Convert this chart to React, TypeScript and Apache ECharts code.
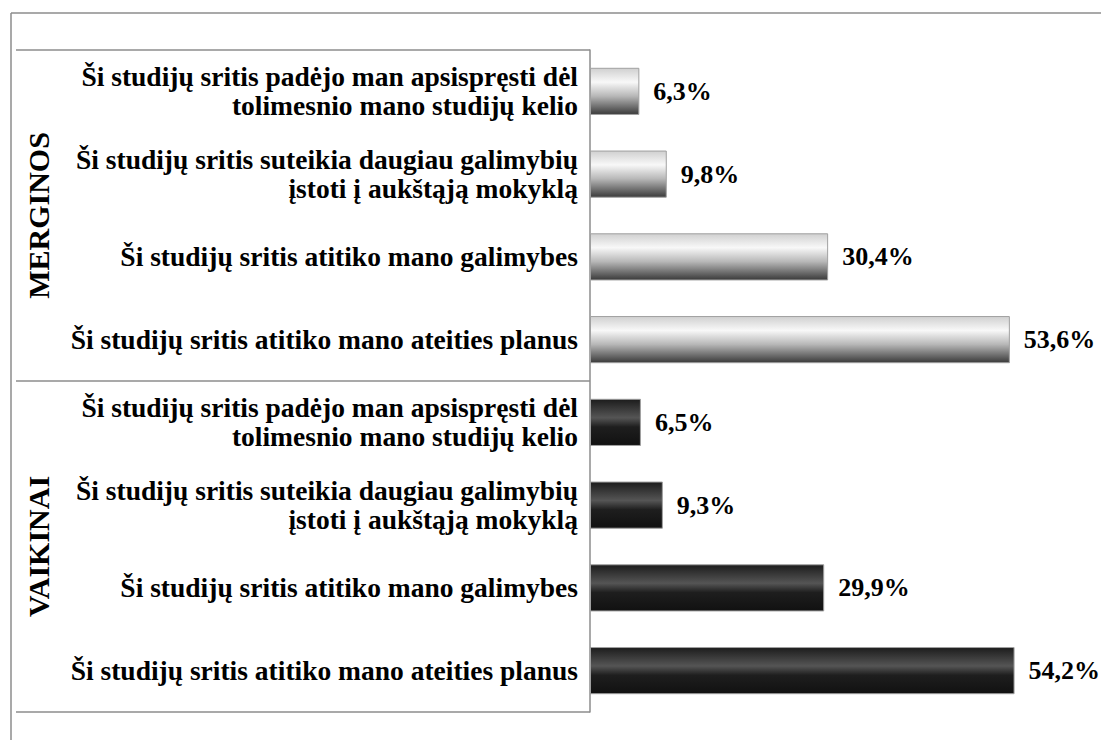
import React, { useEffect, useRef } from "react";
import * as echarts from "echarts";

const categories = [
  "Ši studijų sritis padėjo man apsispręsti dėl\ntolimesnio mano studijų kelio",
  "Ši studijų sritis suteikia daugiau galimybių\nįstoti į aukštąją mokyklą",
  "Ši studijų sritis atitiko mano galimybes",
  "Ši studijų sritis atitiko mano ateities planus",
];
const groups = ["MERGINOS", "VAIKINAI"];
const merginosValues = [6.3, 9.8, 30.4, 53.6];
const vaikinaiValues = [6.5, 9.3, 29.9, 54.2];

const FONT = "Liberation Serif";

const lightGrad = new echarts.graphic.LinearGradient(0, 0, 0, 1, [
  { offset: 0, color: "#d0d0d0" },
  { offset: 0.3, color: "#f8f8f8" },
  { offset: 0.6, color: "#b8b8b8" },
  { offset: 1, color: "#3a3a3a" },
]);
const darkGrad = new echarts.graphic.LinearGradient(0, 0, 0, 1, [
  { offset: 0, color: "#1c1c1c" },
  { offset: 0.4, color: "#555555" },
  { offset: 0.6, color: "#1e1e1e" },
  { offset: 1, color: "#111111" },
]);

export default function App() {
  const ref = useRef<HTMLDivElement>(null);
  useEffect(() => {
    const chart = echarts.init(ref.current!, null, { renderer: "svg" });
    const cats = [...categories, ...categories];
    const data = [
      ...merginosValues.map((v) => ({ value: v, itemStyle: { color: lightGrad } })),
      ...vaikinaiValues.map((v) => ({ value: v, itemStyle: { color: darkGrad } })),
    ];
    const gridLeft = 590;
    const gridTop = 50;
    const gridBottom = 712;
    const gridMid = (gridTop + gridBottom) / 2;
    const groupText = (text: string, y: number) => ({
      type: "text",
      x: 38,
      y,
      rotation: Math.PI / 2,
      style: {
        text,
        fill: "#000",
        fontFamily: FONT,
        fontWeight: "bold",
        fontSize: 30,
        textAlign: "center",
        textVerticalAlign: "middle",
      },
    });
    chart.setOption({
      animation: false,
      backgroundColor: "#ffffff",
      grid: { left: gridLeft, top: gridTop, width: 470, height: gridBottom - gridTop },
      xAxis: {
        type: "value",
        min: 0,
        max: 60,
        show: false,
      },
      yAxis: {
        type: "category",
        inverse: true,
        data: cats,
        axisLine: { show: true, lineStyle: { color: "#8c8c8c", width: 1.5 } },
        axisTick: { show: false },
        axisLabel: {
          color: "#000",
          fontFamily: FONT,
          fontWeight: "bold",
          fontSize: 27.5,
          lineHeight: 29,
          margin: 12,
          align: "right",
        },
      },
      series: [
        {
          type: "bar",
          data,
          barWidth: "57%",
          itemStyle: { borderColor: "#a0a0a0", borderWidth: 1 },
          label: {
            show: true,
            position: "right",
            distance: 14,
            color: "#000",
            fontFamily: FONT,
            fontWeight: "bold",
            fontSize: 26,
            formatter: (p: any) => `${p.value.toFixed(1).replace(".", ",")}%`,
          },
        },
      ],
      graphic: [
        { type: "line", shape: { x1: 11, y1: 13, x2: 1101, y2: 13 }, style: { stroke: "#8c8c8c", lineWidth: 1.5 } },
        { type: "line", shape: { x1: 11, y1: 13, x2: 11, y2: 740 }, style: { stroke: "#8c8c8c", lineWidth: 1.5 } },
        { type: "line", shape: { x1: 16, y1: gridTop, x2: gridLeft, y2: gridTop }, style: { stroke: "#8c8c8c", lineWidth: 1.5 } },
        { type: "line", shape: { x1: 16, y1: gridMid, x2: gridLeft, y2: gridMid }, style: { stroke: "#8c8c8c", lineWidth: 1.5 } },
        { type: "line", shape: { x1: 16, y1: gridBottom, x2: gridLeft, y2: gridBottom }, style: { stroke: "#8c8c8c", lineWidth: 1.5 } },
        groupText(groups[0], (gridTop + gridMid) / 2),
        groupText(groups[1], (gridMid + gridBottom) / 2),
      ],
    });
    return () => chart.dispose();
  }, []);
  return (
    <div
      ref={ref}
      style={{ position: "absolute", left: 0, top: 0, width: 1101, height: 740 }}
    />
  );
}
